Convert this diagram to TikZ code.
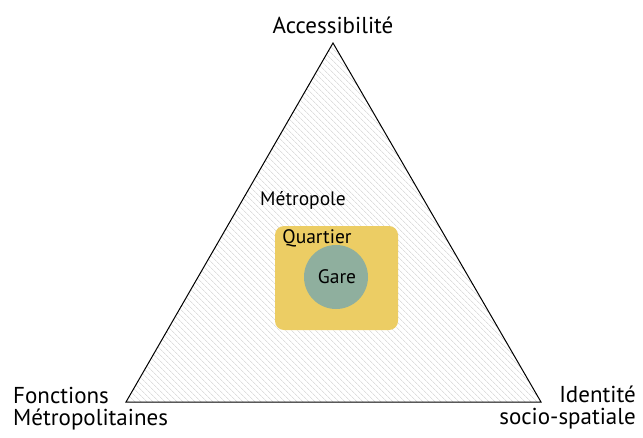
\documentclass[tikz,border=0pt]{standalone}
\usepackage{fontspec}
\setmainfont{PT Sans}
\usetikzlibrary{patterns.meta}
\definecolor{quartiercol}{RGB}{236,205,100}
\definecolor{garecol}{RGB}{143,175,158}
\tikzset{
  lbl/.style={inner sep=0pt, font=\fontsize{23}{27}\selectfont},
  inlbl/.style={inner sep=0pt, anchor=base, font=\fontsize{19.5}{23}\selectfont},
}
\begin{document}
\begin{tikzpicture}[x=1pt,y=-1pt]
\useasboundingbox (0,0) rectangle (643,437);
\coordinate (A) at (333,43);
\coordinate (B) at (126,402);
\coordinate (C) at (541,402);
\fill[pattern={Lines[angle=-45,distance=4pt,line width=0.5pt]}, pattern color=gray!40] (A) -- (B) -- (C) -- cycle;
\draw[line width=1pt, line join=miter] (A) -- (B) -- (C) -- cycle;
\node[fill=quartiercol, rounded corners=9pt, minimum width=123pt, minimum height=104pt, inner sep=0pt] (quartier) at (336.5,278) {};
\node[circle, fill=garecol, minimum size=64pt, inner sep=0pt] (gare) at (336,277) {};
\node[inlbl] (garet) at (337,283) {Gare};
\node[inlbl] (quartiert) at (317,243) {Quartier};
\node[inlbl] (metro) at (303,205) {Métropole};
\node[lbl, anchor=base] (acc) at (333,33) {Accessibilité};
\node[lbl, anchor=base west] (fonc) at (13,403) {Fonctions};
\node[lbl, anchor=base west] (metp) at (13,425) {Métropolitaines};
\node[lbl, anchor=base east] (ident) at (636,402) {Identité};
\node[lbl, anchor=base east] (socio) at (636,424) {socio-spatiale};
\end{tikzpicture}
\end{document}
